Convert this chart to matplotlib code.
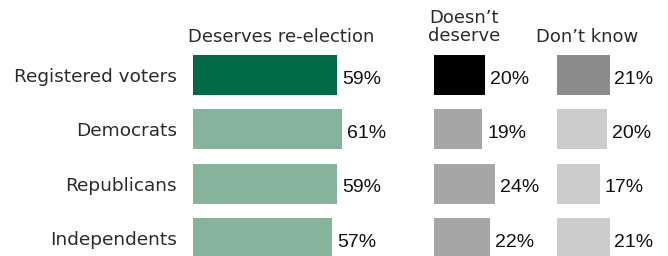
import matplotlib.pyplot as plt

# Survey result: does the official deserve re-election?
groups = ["Registered voters", "Democrats", "Republicans", "Independents"]
deserves = [59, 61, 59, 57]
not_deserve = [20, 19, 24, 22]
dont_know = [21, 20, 17, 21]

headers = ["Deserves re-election", "Doesn\u2019t\ndeserve", "Don\u2019t know"]

# colours: first row highlighted, the rest muted
deserves_colors = ["#016b47", "#86b39c", "#86b39c", "#86b39c"]
not_deserve_colors = ["#000000", "#a6a6a6", "#a6a6a6", "#a6a6a6"]
dont_know_colors = ["#8c8c8c", "#cccccc", "#cccccc", "#cccccc"]

W, H = 668, 256
fig = plt.figure(figsize=(W / 100, H / 100), dpi=100)

LABEL_FONT = "DejaVu Sans"
VALUE_FONT = "Liberation Sans"
TEXT_COLOR = "#2b2b2b"


def add_panel(left_px, px_per_pct, xmax, values, colors):
    ax = fig.add_axes([left_px / W, 0, xmax * px_per_pct / W, 1])
    rows = list(range(len(values)))
    ax.barh(rows, values, height=0.74, color=colors, edgecolor="none")
    for r, v in zip(rows, values):
        ax.annotate(f"{v}%", xy=(v, r), xytext=(3.5, -3), textcoords="offset points",
                    ha="left", va="center", fontsize=14, family=VALUE_FONT,
                    color="#111111")
    ax.set_xlim(0, xmax)
    ax.set_ylim(3.333, -1.381)
    ax.set_xticks([])
    for s in ax.spines.values():
        s.set_visible(False)
    ax.patch.set_visible(False)
    return ax


ax1 = add_panel(193, 2.44, 70, deserves, deserves_colors)
ax2 = add_panel(434, 2.55, 30, not_deserve, not_deserve_colors)
ax3 = add_panel(557, 2.5, 40, dont_know, dont_know_colors)

ax1.set_yticks(range(len(groups)))
ax1.set_yticklabels(groups, fontsize=13.3, family=LABEL_FONT, color=TEXT_COLOR)
ax1.tick_params(axis="y", length=0, pad=11.5)
for ax in (ax2, ax3):
    ax.set_yticks([])

# column headers
fig.text(281 / W, 1 - 37 / H, headers[0], ha="center", va="center",
         fontsize=13, family=LABEL_FONT, color=TEXT_COLOR)
fig.text(464 / W, 1 - 27 / H, headers[1], ha="center", va="center",
         fontsize=13, family=LABEL_FONT, color=TEXT_COLOR, linespacing=1.05)
fig.text(587 / W, 1 - 37 / H, headers[2], ha="center", va="center",
         fontsize=13, family=LABEL_FONT, color=TEXT_COLOR)

fig.savefig("out.png", dpi=100)
